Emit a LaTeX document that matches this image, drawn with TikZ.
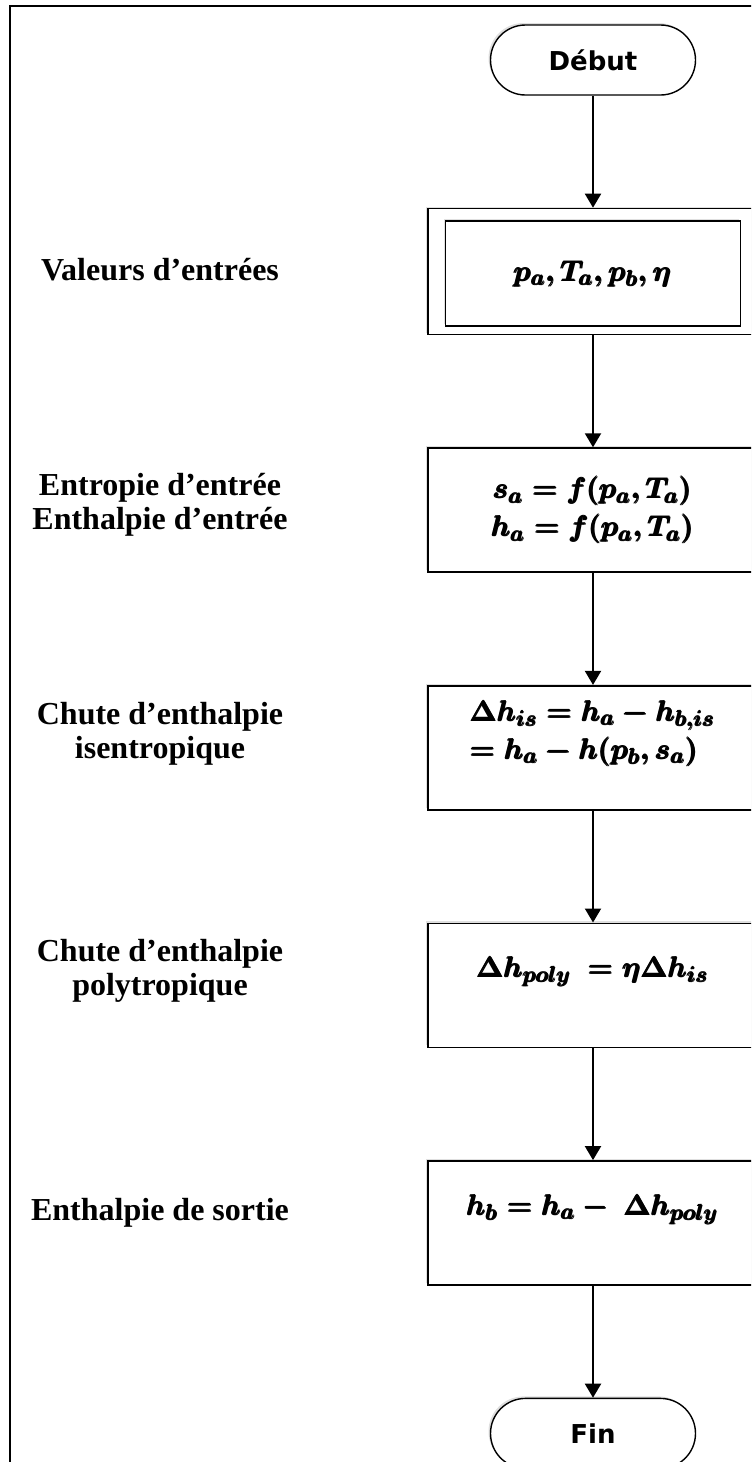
\documentclass[tikz,border=0pt]{standalone}
\usepackage{amsmath}
\usepackage{bm}
\usepackage{fontspec}
\setmainfont{Liberation Serif}
\newfontfamily\termfont{DejaVu Sans}
\usepackage{tikz}
\usetikzlibrary{positioning,arrows.meta,shadows}

\newcommand{\heavy}[1]{$\pmb{\bm{#1}}$}

\begin{document}
\begin{tikzpicture}[
    x=0.5pt, y=-0.5pt,
    node distance=56pt,
    >={Triangle[width=8pt,length=7pt]},
    every node/.style={align=center},
    terminal/.style={draw, line width=0.7pt, rectangle, rounded corners=17.5pt,
        minimum width=102.5pt, minimum height=35pt, fill=white,
        font=\termfont\bfseries\fontsize{13}{15}\selectfont,
        drop shadow={shadow xshift=-1pt, shadow yshift=1pt, opacity=0.25}},
    process/.style={draw, line width=0.8pt, rectangle,
        minimum width=165pt, minimum height=62pt, fill=white,
        font=\fontsize{15}{16}\selectfont\boldmath,
        drop shadow={shadow xshift=-1pt, shadow yshift=1pt, opacity=0.25}},
    steplabel/.style={font=\bfseries\fontsize{16}{17}\selectfont}
]

\useasboundingbox (0,0) rectangle (751,1462);
\clip (0,0) rectangle (751,1462);

% Frame
\draw[line width=1.1pt] (10,1470) -- (10,6) -- (760,6);

% Start
\node[terminal] (debut) at (593,60) {D\'ebut};

% Input values
\node[process, minimum height=63pt, below=of debut] (entree) {};
\node[process, minimum width=147.5pt, minimum height=52.5pt]
    (entreein) at ([yshift=-1pt]entree.center) {\heavy{p_a, T_a, p_b, \eta}};

% Steps
\node[process, below=of entree] (etat) {\heavy{s_a = f(p_a, T_a)}\\[3pt]
\heavy{h_a = f(p_a, T_a)}};

\node[process, align=left, below=of etat] (isen) {\heavy{\Delta h_{is} = h_a - h_{b,is}}\\[3pt]
\heavy{= h_a - h(p_b, s_a)}\\[2pt]};

\node[process, below=of isen] (poly) {\heavy{\Delta h_{poly}\ = \eta \Delta h_{is}}\\[2pt]};

\node[process, below=of poly] (sortie) {\heavy{h_b = h_a -\ \Delta h_{poly}}\\[2pt]};

% End
\node[terminal, below=of sortie] (fin) {Fin};

% Labels
\node[steplabel] (lblentree) at (160,270) {Valeurs d’entrées};
\node[steplabel] (lbletat) at (160,505) {Entropie d’entrée\\Enthalpie d’entrée};
\node[steplabel] (lblisen) at (160,734) {Chute d’enthalpie\\isentropique};
\node[steplabel] (lblpoly) at (160,971) {Chute d’enthalpie\\polytropique};
\node[steplabel] (lblsortie) at (160,1213) {Enthalpie de sortie};

% Connections
\draw[->, line width=1pt] (debut.south) -- (entree.north);
\draw[->, line width=1pt] (entree.south) -- (etat.north);
\draw[->, line width=1pt] (etat.south) -- (isen.north);
\draw[->, line width=1pt] (isen.south) -- (poly.north);
\draw[->, line width=1pt] (poly.south) -- (sortie.north);
\draw[->, line width=1pt] (sortie.south) -- (fin.north);

\end{tikzpicture}
\end{document}
